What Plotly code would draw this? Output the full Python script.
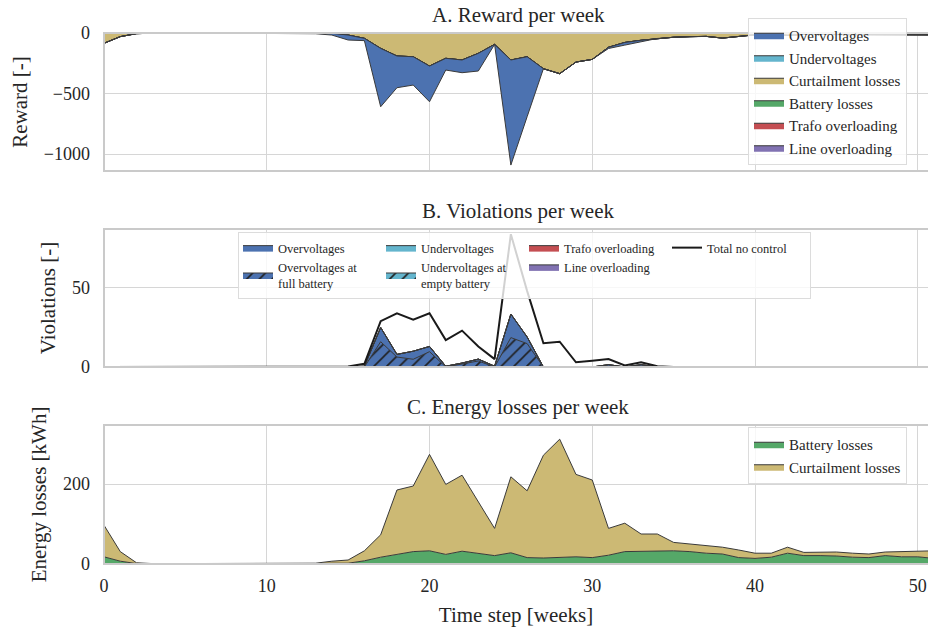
import plotly.graph_objects as go

# ---------------------------------------------------------------------------
# Weekly results (52 weeks)
# ---------------------------------------------------------------------------
weeks = list(range(52))

# A. Reward per week - penalty magnitudes (plotted as negative reward)
reward_curtailment = [85, 30, 5, 0, 0, 0, 0, 0, 0, 0, 0, 0, 0, 2, 3, 17, 44, 127,
                      190, 196, 273, 209, 223, 168, 94, 223, 196, 295, 336, 240,
                      218, 118, 78, 60, 45, 35, 30, 28, 42, 27, 15, 14, 20, 12,
                      12, 11, 10, 11, 12, 13, 14, 15]
reward_battery = [0] * 52
reward_undervoltage = [0] * 52
reward_trafo = [0] * 52
reward_line = [0] * 52
reward_overvoltage = [0, 0, 0, 0, 0, 0, 0, 0, 0, 0, 0, 0, 2, 4, 14, 41, 19, 482,
                      262, 234, 295, 97, 105, 146, 0, 868, 495, 0, 0, 0, 0, 10,
                      22, 12, 0, 0, 0, 0, 0, 0, 0, 0, 0, 0, 0, 0, 0, 0, 0, 0, 0, 0]

# B. Violations per week
viol_overvoltage = [0, 0, 0, 0, 0, 0, 0, 0, 0, 0, 0, 0, 0, 0, 0, 0, 0.5, 25, 8,
                    10, 13, 0.5, 2.5, 5, 0.5, 33.5, 19, 0, 0, 0, 0, 1.5, 0, 1.5,
                    0, 0, 0, 0, 0, 0, 0, 0, 0, 0, 0, 0, 0, 0, 0, 0, 0, 0]
viol_overvoltage_full = [0, 0, 0, 0, 0, 0, 0, 0, 0, 0, 0, 0, 0, 0, 0, 0, 0, 16,
                         6.3, 4.9, 9.7, 0, 1.7, 3.8, 0, 18.6, 14.8, 0, 0, 0, 0,
                         0, 0, 0, 0, 0, 0, 0, 0, 0, 0, 0, 0, 0, 0, 0, 0, 0, 0,
                         0, 0, 0]
viol_undervoltage = [0] * 52
viol_undervoltage_empty = [0] * 52
viol_trafo = [0] * 52
viol_line = [0] * 52
viol_total_no_control = [0, 0, 0, 0, 0, 0, 0, 0, 0, 0, 0, 0, 0, 0, 0, 0.3, 2, 29,
                         34, 30, 34, 17, 23, 13, 5, 84, 48, 15, 16, 3, 4, 5, 1, 3,
                         0.5, 0, 0, 0, 0, 0, 0, 0, 0, 0, 0, 0, 0, 0, 0, 0, 0, 0]

# C. Energy losses per week [kWh]
energy_battery = [18, 7, 1, 0, 0, 0, 0, 0, 0, 0, 0, 0, 0, 1, 2, 2, 8, 17, 24, 31,
                  33, 24, 32, 26, 21, 28, 16, 15, 17, 18, 16, 22, 31, 32, 32, 33,
                  31, 27, 25, 16, 14, 17, 27, 21, 21, 20, 17, 16, 21, 18, 18, 14]
energy_curtailment = [79, 24, 2, 1, 1, 1, 1, 1, 1, 1, 1, 1, 1, 1, 5, 8, 25, 56,
                      161, 164, 241, 175, 190, 131, 68, 190, 167, 257, 295, 206,
                      194, 67, 71, 43, 43, 21, 19, 19, 17, 19, 13, 10, 15, 8, 8,
                      10, 10, 9, 9, 13, 14, 19]

x_ticks = [0, 10, 20, 30, 40, 50]

# ---------------------------------------------------------------------------
# Styling
# ---------------------------------------------------------------------------
BLUE, CYAN, KHAKI = "#4C72B0", "#64B5CD", "#CCB974"
GREEN, RED, PURPLE = "#55A868", "#C44E52", "#8172B2"
EDGE = "#3a3a3a"
SPINE = "#cacaca"
FONT = "Liberation Serif"
TEXT = "#262626"


def negate(values):
    return [-v for v in values]


fig = go.Figure()

# --- A. stacked penalties (curtailment closest to zero, overvoltages below)
panel_a = [
    ("Curtailment losses", reward_curtailment, KHAKI, 3),
    ("Battery losses", reward_battery, GREEN, 4),
    ("Undervoltages", reward_undervoltage, CYAN, 2),
    ("Trafo overloading", reward_trafo, RED, 5),
    ("Line overloading", reward_line, PURPLE, 6),
    ("Overvoltages", reward_overvoltage, BLUE, 1),
]
for name, vals, col, rank in panel_a:
    fig.add_trace(go.Scatter(
        x=weeks, y=negate(vals), name=name, mode="lines", stackgroup="reward",
        line=dict(color=EDGE, width=1), fillcolor=col, legend="legend",
        legendrank=rank, xaxis="x", yaxis="y", hoverinfo="skip"))

# --- B. violation counts
panel_b = [
    ("Overvoltages", viol_overvoltage, BLUE, 1, "c1"),
    ("Undervoltages", viol_undervoltage, CYAN, 3, "c2"),
    ("Trafo overloading", viol_trafo, RED, 5, "c3"),
    ("Line overloading", viol_line, PURPLE, 6, "c3"),
]
for name, vals, col, rank, grp in panel_b:
    fig.add_trace(go.Scatter(
        x=weeks, y=vals, name=name, mode="lines", stackgroup="violations",
        line=dict(color=EDGE, width=1), fillcolor=col, legend="legend2",
        legendgroup=grp, legendrank=rank, xaxis="x2", yaxis="y2",
        hoverinfo="skip"))

hatched = [
    ("Overvoltages at<br>full battery", viol_overvoltage_full, BLUE, 2, "c1"),
    ("Undervoltages at<br>empty battery", viol_undervoltage_empty, CYAN, 4, "c2"),
]
for name, vals, col, rank, grp in hatched:
    fig.add_trace(go.Scatter(
        x=weeks, y=vals, name=name, mode="lines", fill="tozeroy",
        fillcolor=col,
        fillpattern=dict(shape="/", bgcolor=col, fgcolor="#202020",
                         fgopacity=1, size=9, solidity=0.18),
        line=dict(color=EDGE, width=1), legend="legend2", legendgroup=grp,
        legendrank=rank, xaxis="x2", yaxis="y2", hoverinfo="skip"))

fig.add_trace(go.Scatter(
    x=weeks, y=viol_total_no_control, name="Total no control", mode="lines",
    line=dict(color="#1a1a1a", width=2), legend="legend2", legendgroup="c4",
    legendrank=7, xaxis="x2", yaxis="y2", hoverinfo="skip"))

# --- C. energy losses
panel_c = [
    ("Battery losses", energy_battery, GREEN, 1),
    ("Curtailment losses", energy_curtailment, KHAKI, 2),
]
for name, vals, col, rank in panel_c:
    fig.add_trace(go.Scatter(
        x=weeks, y=vals, name=name, mode="lines", stackgroup="energy",
        line=dict(color=EDGE, width=1), fillcolor=col, legend="legend3",
        legendrank=rank, xaxis="x3", yaxis="y3", hoverinfo="skip"))

# ---------------------------------------------------------------------------
# Layout
# ---------------------------------------------------------------------------
H = 628.0


def ydom(top_px, bottom_px):
    return [1 - bottom_px / H, 1 - top_px / H]


grid = dict(showgrid=True, gridcolor="#d6d6d6", gridwidth=1.2, zeroline=False,
            showline=False, ticks="", automargin=False)
tickfont = dict(family=FONT, size=18, color=TEXT)
titlefont = dict(family=FONT, size=21, color=TEXT)

xcommon = dict(grid, range=[0, 50.63], tickvals=x_ticks, domain=[0, 1])
ycommon = dict(grid, tickfont=tickfont, ticklabelstandoff=13)

legend_style = dict(bgcolor="rgba(255,255,255,0.8)", bordercolor="#dcdcdc",
                    borderwidth=1, xanchor="left", yanchor="top",
                    itemclick=False, itemdoubleclick=False)

fig.update_layout(
    width=928, height=628,
    margin=dict(l=104, r=0, t=0, b=0),
    paper_bgcolor="white", plot_bgcolor="white",
    font=dict(family=FONT, color=TEXT, size=16),
    hovermode=False,
    xaxis=dict(xcommon, anchor="y", showticklabels=False),
    xaxis2=dict(xcommon, anchor="y2", matches="x", showticklabels=False),
    xaxis3=dict(xcommon, anchor="y3", matches="x", tickfont=tickfont,
                ticklabelstandoff=9,
                title=dict(text="Time step [weeks]", font=titlefont,
                           standoff=12)),
    yaxis=dict(ycommon, anchor="x", domain=ydom(33, 171), range=[-1140, 0],
               tickvals=[0, -500, -1000],
               title=dict(text="Reward [-]", font=titlefont, standoff=10)),
    yaxis2=dict(ycommon, anchor="x2", domain=ydom(229, 367), range=[0, 87.3],
                tickvals=[0, 50],
                title=dict(text="Violations [-]", font=titlefont, standoff=10)),
    yaxis3=dict(ycommon, anchor="x3", domain=ydom(425, 564), range=[0, 347.5],
                tickvals=[0, 200],
                title=dict(text="Energy losses [kWh]", font=titlefont,
                           standoff=10)),
    legend=dict(legend_style, x=(748 - 104) / 824, y=1 - 18 / H,
                font=dict(family=FONT, size=15, color=TEXT),
                traceorder="normal"),
    legend2=dict(legend_style, x=(238 - 104) / 824, y=1 - 232 / H,
                 orientation="h", traceorder="grouped", entrywidth=98,
                 font=dict(family=FONT, size=12.5, color=TEXT)),
    legend3=dict(legend_style, x=(748 - 104) / 824, y=1 - 427 / H,
                 font=dict(family=FONT, size=15, color=TEXT),
                 traceorder="normal"),
)

# Frame of each panel, drawn over the data like plot spines; the right side
# runs off the page.
for xr, yr in [("x", "y"), ("x2", "y2"), ("x3", "y3")]:
    fig.add_shape(type="rect", xref=f"{xr} domain", yref=f"{yr} domain",
                  x0=0, x1=1.02, y0=0, y1=1, layer="above",
                  line=dict(color=SPINE, width=2), fillcolor="rgba(0,0,0,0)")

titles = [("A. Reward per week", 29), ("B. Violations per week", 225),
          ("C. Energy losses per week", 421)]
for text, bottom_px in titles:
    fig.add_annotation(text=text, xref="paper", yref="paper",
                       x=(518 - 104) / 824, y=1 - bottom_px / H,
                       xanchor="center", yanchor="bottom", showarrow=False,
                       font=dict(family=FONT, size=21, color=TEXT))

fig.write_html("out.html")
